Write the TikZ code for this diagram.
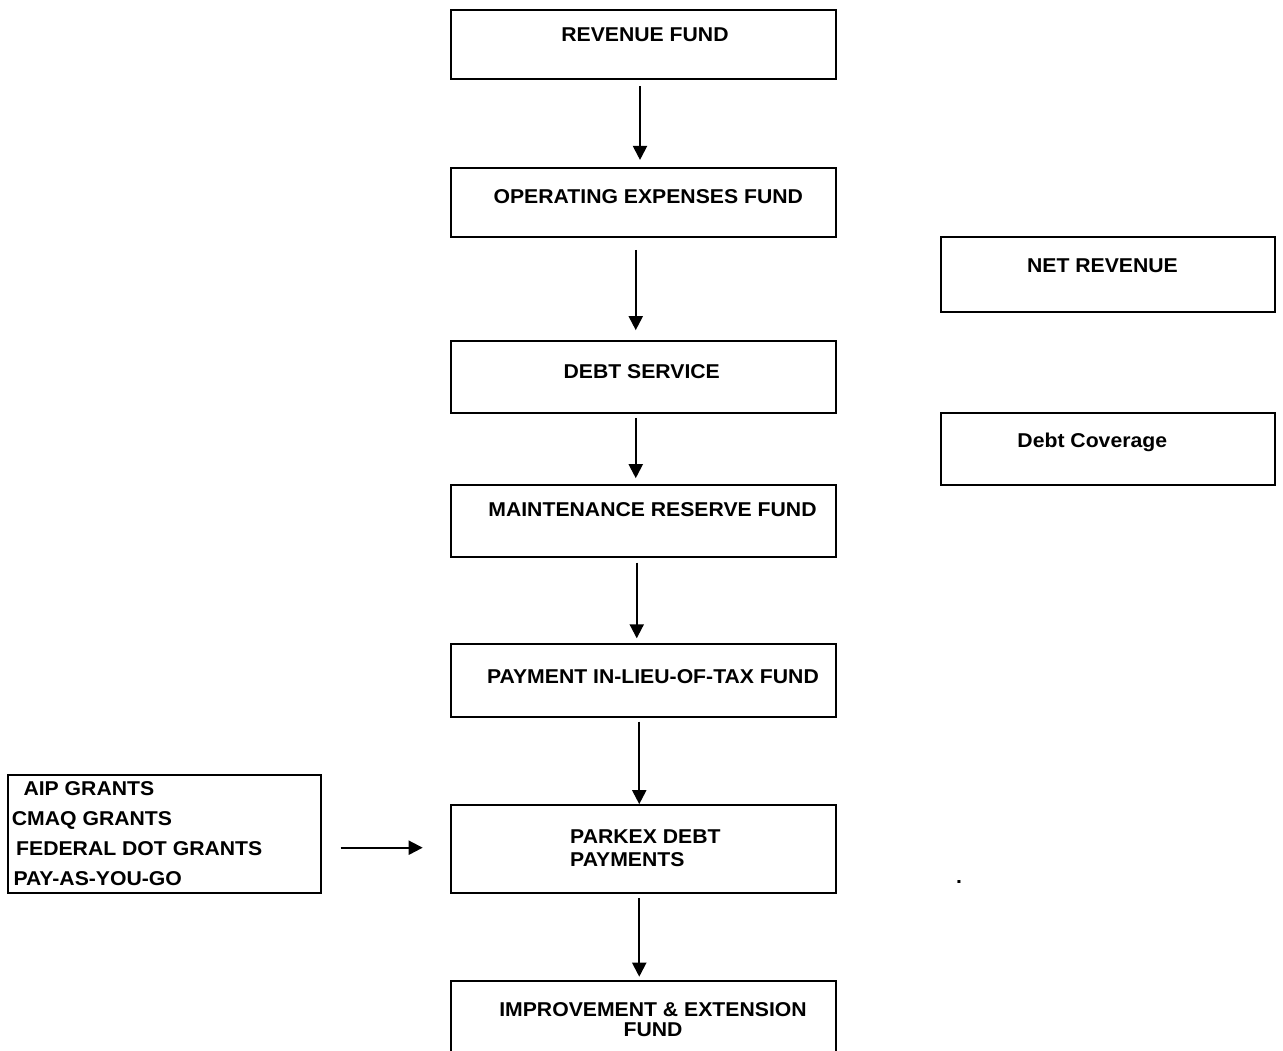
\documentclass[tikz,border=0pt]{standalone}
\usepackage{fontspec}
\setmainfont{Liberation Sans}[FakeStretch=1.06]
\usetikzlibrary{arrows.meta}

\begin{document}
\begin{tikzpicture}[x=1pt,y=-1pt]
\tikzstyle{every node}=[font=\fontsize{20}{20}\selectfont\bfseries]
\tikzstyle{fund}=[draw, line width=2pt, outer sep=0pt, inner sep=0pt, minimum width=384.5pt]
\tikzstyle{side}=[draw, line width=2pt, outer sep=0pt, inner sep=0pt, minimum width=334.5pt]
\tikzstyle{caption}=[inner sep=0pt, anchor=base]
\tikzstyle{flow}=[line width=2pt, -{Triangle[width=14pt,length=14pt]}]

\useasboundingbox (0,0) rectangle (1283,1050);
\clip (0,0) rectangle (1283,1050);

% main column of funds
\node[fund, minimum height=69pt] (Revenue) at (643.25,44.5) {};
\node[fund, minimum height=69pt] (Operating) at (643.25,202.75) {};
\node[fund, minimum height=71.7pt] (DebtService) at (643.25,377) {};
\node[fund, minimum height=71.7pt] (Maintenance) at (643.25,520.75) {};
\node[fund, minimum height=72.4pt] (InLieu) at (643.25,680.5) {};
\node[fund, minimum height=87.7pt] (Parkex) at (643.25,849) {};
\node[fund, minimum height=99pt] (Improvement) at (643.25,1030.5) {};

\node[caption] at (645,41.7) {REVENUE FUND};
\node[caption] at (648.3,203) {OPERATING EXPENSES FUND};
\node[caption] at (641.7,378) {DEBT SERVICE};
\node[caption] at (652.5,516.5) {MAINTENANCE RESERVE FUND};
\node[caption] at (653,683.5) {PAYMENT IN-LIEU-OF-TAX FUND};
\node[caption, anchor=base west, align=left, font=\fontsize{20}{23.5}\selectfont\bfseries] at (570,866.5) {PARKEX DEBT\\PAYMENTS};
\node[caption, align=center, font=\fontsize{20}{20}\selectfont\bfseries] at (653,1036.7) {IMPROVEMENT \& EXTENSION\\FUND};

% right hand boxes
\node[side, minimum height=74.4pt] (NetRevenue) at (1108,274.5) {};
\node[side, minimum height=71.7pt] (Coverage) at (1108,449.2) {};
\node[caption] at (1102.5,272.3) {NET REVENUE};
\node[caption] at (1092.3,447.7) {Debt Coverage};
\node[caption, anchor=base west] (Dot) at (956,883) {.};

% grants box
\node[draw, line width=2pt, outer sep=0pt, inner sep=0pt, minimum width=312.4pt, minimum height=118.3pt] (Grants) at (164.5,834.2) {};
\node[caption, anchor=base west, align=left, font=\fontsize{20}{30}\selectfont\bfseries] at (11.7,885) {\hspace*{11.6pt}AIP GRANTS\\CMAQ GRANTS\\\hspace*{4.3pt}FEDERAL DOT GRANTS\\\hspace*{1.6pt}PAY-AS-YOU-GO};

\draw[flow, shorten <=7pt, shorten >=8.3pt] ([xshift=-3.25pt]Revenue.south) -- ([xshift=-3.25pt]Operating.north);
\draw[flow, shorten <=12.7pt, shorten >=11pt] ([xshift=-7.5pt]Operating.south) -- ([xshift=-7.5pt]DebtService.north);
\draw[flow, shorten <=5pt, shorten >=6.7pt] ([xshift=-7.5pt]DebtService.south) -- ([xshift=-7.5pt]Maintenance.north);
\draw[flow, shorten <=6pt, shorten >=6pt] ([xshift=-6.5pt]Maintenance.south) -- ([xshift=-6.5pt]InLieu.north);
\draw[flow, shorten <=5pt, shorten >=1pt] ([xshift=-4pt]InLieu.south) -- ([xshift=-4pt]Parkex.north);
\draw[flow, shorten <=5pt, shorten >=4.3pt] ([xshift=-4pt]Parkex.south) -- ([xshift=-4pt]Improvement.north);
\draw[flow, shorten <=20pt, shorten >=28.3pt] ([yshift=-13.5pt]Grants.east) -- ([yshift=1.3pt]Parkex.west);

\end{tikzpicture}
\end{document}
